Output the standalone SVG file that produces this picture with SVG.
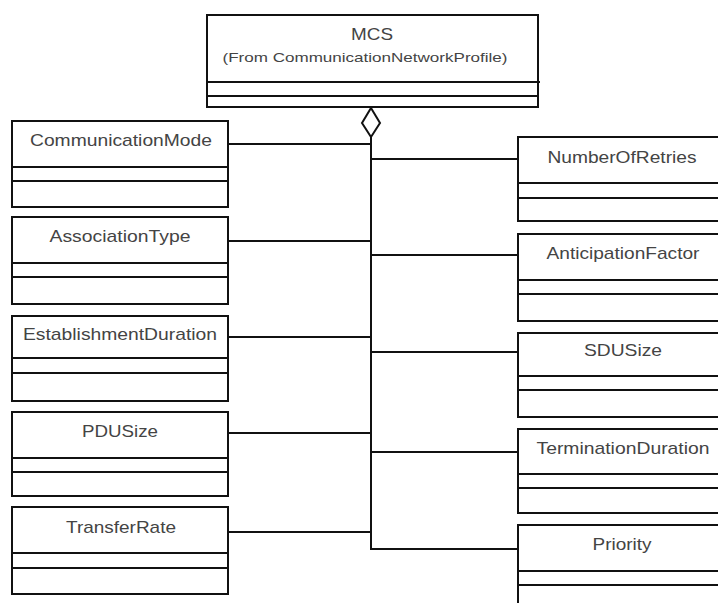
<svg xmlns="http://www.w3.org/2000/svg" width="718" height="603" viewBox="0 0 718 603">
<style>
.box{fill:#fff;stroke:#111;stroke-width:2}
.div{stroke:#111;stroke-width:2}
.t{font-family:"Liberation Sans",Arial,sans-serif;font-size:17px;fill:#444;text-anchor:middle}
.s{font-family:"Liberation Sans",Arial,sans-serif;font-size:13px;fill:#444;text-anchor:middle}
.c{fill:none;stroke:#111;stroke-width:2}
</style>
<rect width="718" height="603" fill="#fff"/>
<g id="connectors">
<polyline class="c" points="371,137 371,549 518,549"/>
<line class="c" x1="228" y1="144" x2="371" y2="144"/>
<line class="c" x1="228" y1="241" x2="371" y2="241"/>
<line class="c" x1="228" y1="337" x2="371" y2="337"/>
<line class="c" x1="228" y1="433" x2="371" y2="433"/>
<line class="c" x1="228" y1="532" x2="371" y2="532"/>
<line class="c" x1="371" y1="159" x2="518" y2="159"/>
<line class="c" x1="371" y1="255" x2="518" y2="255"/>
<line class="c" x1="371" y1="352" x2="518" y2="352"/>
<line class="c" x1="371" y1="452" x2="518" y2="452"/>
<polygon points="371,108 380,123 371,137 362,123" fill="#fff" stroke="#111" stroke-width="2"/>
</g>
<g id="MCS">
<rect class="box" x="207" y="15" width="331" height="92"/>
<line class="div" x1="207" y1="82" x2="540" y2="82"/>
<line class="div" x1="207" y1="96" x2="538" y2="96"/>
<text class="t" x="372" y="40" textLength="42" lengthAdjust="spacingAndGlyphs">MCS</text>
<text class="s" x="365" y="62" textLength="285" lengthAdjust="spacingAndGlyphs">(From CommunicationNetworkProfile)</text>
</g>
<g id="CommunicationMode">
<rect class="box" x="12" y="121" width="216" height="86"/>
<line class="div" x1="12" y1="167" x2="228" y2="167"/>
<line class="div" x1="12" y1="181" x2="228" y2="181"/>
<text class="t" x="121" y="146" textLength="182" lengthAdjust="spacingAndGlyphs">CommunicationMode</text>
</g>
<g id="AssociationType">
<rect class="box" x="12" y="217" width="216" height="87"/>
<line class="div" x1="12" y1="263" x2="228" y2="263"/>
<line class="div" x1="12" y1="277" x2="228" y2="277"/>
<text class="t" x="120" y="242" textLength="141" lengthAdjust="spacingAndGlyphs">AssociationType</text>
</g>
<g id="EstablishmentDuration">
<rect class="box" x="12" y="316" width="216" height="85"/>
<line class="div" x1="12" y1="358" x2="228" y2="358"/>
<line class="div" x1="12" y1="373" x2="228" y2="373"/>
<text class="t" x="120" y="340" textLength="194" lengthAdjust="spacingAndGlyphs">EstablishmentDuration</text>
</g>
<g id="PDUSize">
<rect class="box" x="12" y="412" width="216" height="84"/>
<line class="div" x1="12" y1="458" x2="228" y2="458"/>
<line class="div" x1="12" y1="472" x2="228" y2="472"/>
<text class="t" x="120" y="437" textLength="76" lengthAdjust="spacingAndGlyphs">PDUSize</text>
</g>
<g id="TransferRate">
<rect class="box" x="12" y="507" width="216" height="87"/>
<line class="div" x1="12" y1="553" x2="228" y2="553"/>
<line class="div" x1="12" y1="568" x2="228" y2="568"/>
<text class="t" x="121" y="533" textLength="110" lengthAdjust="spacingAndGlyphs">TransferRate</text>
</g>
<g id="NumberOfRetries">
<rect class="box" x="518" y="137" width="210" height="84"/>
<line class="div" x1="518" y1="183" x2="728" y2="183"/>
<line class="div" x1="518" y1="198" x2="728" y2="198"/>
<text class="t" x="622" y="163" textLength="149" lengthAdjust="spacingAndGlyphs">NumberOfRetries</text>
</g>
<g id="AnticipationFactor">
<rect class="box" x="518" y="234" width="210" height="87"/>
<line class="div" x1="518" y1="280" x2="728" y2="280"/>
<line class="div" x1="518" y1="294" x2="728" y2="294"/>
<text class="t" x="623" y="259" textLength="153" lengthAdjust="spacingAndGlyphs">AnticipationFactor</text>
</g>
<g id="SDUSize">
<rect class="box" x="518" y="333" width="210" height="84"/>
<line class="div" x1="518" y1="376" x2="728" y2="376"/>
<line class="div" x1="518" y1="390" x2="728" y2="390"/>
<text class="t" x="623" y="356" textLength="78" lengthAdjust="spacingAndGlyphs">SDUSize</text>
</g>
<g id="TerminationDuration">
<rect class="box" x="518" y="429" width="210" height="84"/>
<line class="div" x1="518" y1="474" x2="728" y2="474"/>
<line class="div" x1="518" y1="488" x2="728" y2="488"/>
<text class="t" x="623" y="454" textLength="173" lengthAdjust="spacingAndGlyphs">TerminationDuration</text>
</g>
<g id="Priority">
<rect class="box" x="518" y="525" width="210" height="90"/>
<line class="div" x1="518" y1="571" x2="728" y2="571"/>
<line class="div" x1="518" y1="585" x2="728" y2="585"/>
<text class="t" x="622" y="550" textLength="59" lengthAdjust="spacingAndGlyphs">Priority</text>
</g>
</svg>
